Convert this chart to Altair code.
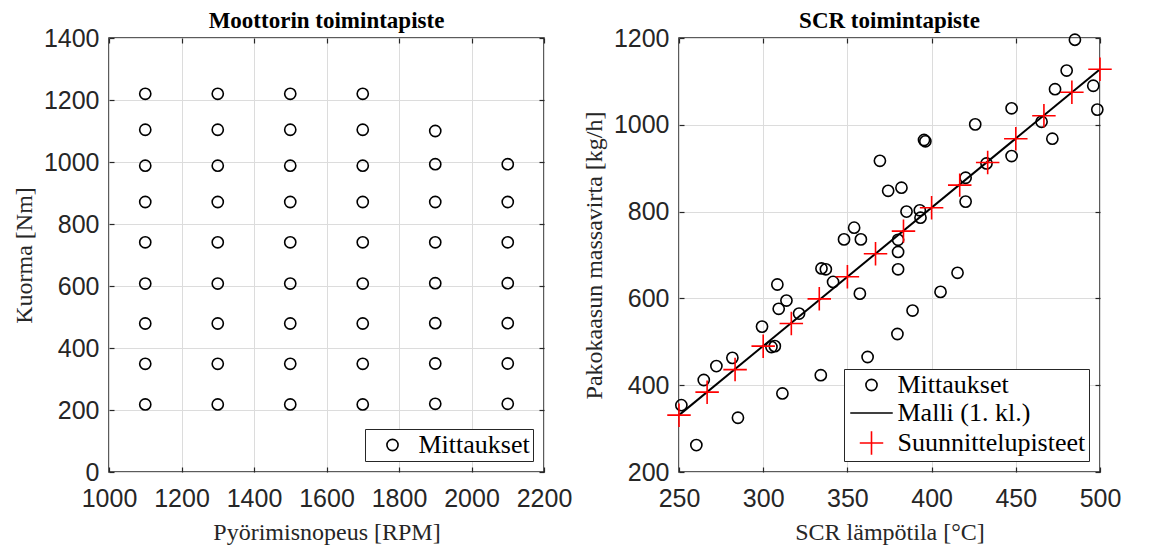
import altair as alt
import pandas as pd

SANS = "Liberation Sans"
SERIF = "Liberation Serif"
AX = "#262626"
GRID = "#dcdcdc"

# ---------------- Left panel data ----------------
speed_1100 = [1100] * 9
load_1100 = [1220, 1104, 988, 871, 741, 608, 479, 349, 218]
speed_1300 = [1300] * 9
load_1300 = [1220, 1104, 988, 871, 741, 608, 479, 349, 218]
speed_1500 = [1500] * 9
load_1500 = [1220, 1104, 988, 871, 741, 608, 479, 349, 218]
speed_1700 = [1700] * 9
load_1700 = [1220, 1104, 988, 871, 741, 608, 479, 349, 218]
speed_1900 = [1900] * 8
load_1900 = [1100, 993, 871, 741, 609, 480, 350, 220]
speed_2100 = [2100] * 7
load_2100 = [993, 871, 741, 609, 480, 350, 220]

left_x_ticks = [1000, 1200, 1400, 1600, 1800, 2000, 2200]
left_y_ticks = [0, 200, 400, 600, 800, 1000, 1200, 1400]

# ---------------- Right panel data ----------------
meas_temp = [485.1, 480.2, 473.3, 496.0, 498.4, 447.5, 465.3, 471.7, 447.5, 425.9,
             395.5, 396.3, 369.3, 420.2, 420.2, 432.6, 374.2, 382.1, 385.1, 393.0,
             393.4, 380.1, 348.0, 354.0, 358.0, 380.1, 380.1, 415.4, 334.6, 337.2,
             405.3, 388.7, 379.7, 362.0, 334.2, 341.5, 357.4, 308.4, 313.8, 309.2,
             321.3, 299.3, 304.9, 306.9, 311.4, 281.7, 272.2, 264.7, 251.4, 285.0,
             260.3]
meas_flow = [1196, 1125, 1082, 1090, 1035, 1038, 1007, 968, 928, 1001,
             965, 962, 917, 878, 823, 911, 848, 855, 800, 803,
             786, 735, 736, 763, 736, 707, 667, 659, 669, 667,
             615, 572, 518, 465, 423, 638, 611, 632, 595, 576,
             565, 535, 488, 490, 381, 463, 444, 412, 354, 325,
             262]

design_temp = [250.0, 266.7, 283.3, 300.0, 316.7, 333.3, 350.0, 366.7,
               383.3, 400.0, 416.7, 433.3, 450.0, 466.7, 483.3, 500.0]
design_flow = [331, 384, 436, 490, 542, 599, 650, 703,
               755, 809, 861, 913, 968, 1021, 1075, 1128]

model_temp = [250, 500]
model_flow = [331, 1128]

right_x_ticks = [250, 300, 350, 400, 450, 500]
right_y_ticks = [200, 400, 600, 800, 1000, 1200]

# ---------------- Legend series ----------------
series_names = ["Mittaukset", "Malli (1. kl.)", "Suunnittelupisteet"]
series_shapes = ["circle", "M-3.8,0L3.8,0", "M-2.1,0L2.1,0M0,-2.1L0,2.1"]
series_colors = ["black", "black", "#ff0000"]

left_df = pd.DataFrame({
    "speed": speed_1100 + speed_1300 + speed_1500 + speed_1700 + speed_1900 + speed_2100,
    "load": load_1100 + load_1300 + load_1500 + load_1700 + load_1900 + load_2100,
})
left_df["series"] = "Mittaukset"

meas_df = pd.DataFrame({"temp": meas_temp, "flow": meas_flow, "series": "Mittaukset"})
design_df = pd.DataFrame({"temp": design_temp, "flow": design_flow, "series": "Suunnittelupisteet"})
model_df = pd.DataFrame({"temp": model_temp, "flow": model_flow})

PW = 1.6
PSIZE = 125


def make_legend():
    return alt.Legend(
        title=None, orient="bottom-right", offset=11,
        strokeColor=AX, fillColor="white", padding=3,
        labelFont=SERIF, labelFontSize=26, labelColor="black", labelLimit=400,
        symbolSize=PSIZE, symbolStrokeWidth=PW, symbolOffset=11.5,
        labelOffset=13, rowPadding=2,
    )


def enc_series(domain, shapes, colors):
    return dict(
        shape=alt.Shape("series:N", scale=alt.Scale(domain=domain, range=shapes), legend=make_legend()),
        stroke=alt.Stroke("series:N", scale=alt.Scale(domain=domain, range=colors), legend=make_legend()),
    )


def main_x(field, dom, ticks, title):
    return alt.X(field, type="quantitative",
                 scale=alt.Scale(domain=dom, nice=False, zero=False),
                 axis=alt.Axis(values=ticks, title=title, format="d", grid=True, gridColor=GRID,
                               ticks=False, domain=False, labelFlush=False, labelOverlap=False,
                               labelPadding=14, labelFont=SANS, labelFontSize=25, labelColor=AX,
                               titleFont=SERIF, titleFontSize=24, titleFontWeight="normal",
                               titleColor=AX, titleBaseline="alphabetic", titleY=67))


def main_y(field, dom, ticks, title):
    return alt.Y(field, type="quantitative",
                 scale=alt.Scale(domain=dom, nice=False, zero=False),
                 axis=alt.Axis(values=ticks, title=title, format="d", grid=True, gridColor=GRID,
                               ticks=False, domain=False, labelFlush=False, labelOverlap=False,
                               labelPadding=10, labelFont=SANS, labelFontSize=25, labelColor=AX,
                               titleFont=SERIF, titleFontSize=24, titleFontWeight="normal",
                               titleColor=AX, titleBaseline="alphabetic", titleX=-78))


def tick_x(field, dom, ticks, orient):
    return alt.X(field, type="quantitative",
                 scale=alt.Scale(domain=dom, nice=False, zero=False),
                 axis=alt.Axis(values=ticks, orient=orient, labels=False, title=None, grid=False,
                               ticks=True, tickSize=5, tickColor=AX, tickWidth=1.2,
                               domain=False, offset=-5))


def tick_y(field, dom, ticks, orient):
    return alt.Y(field, type="quantitative",
                 scale=alt.Scale(domain=dom, nice=False, zero=False),
                 axis=alt.Axis(values=ticks, orient=orient, labels=False, title=None, grid=False,
                               ticks=True, tickSize=5, tickColor=AX, tickWidth=1.2,
                               domain=False, offset=-5))


def tick_layers(df, xf, yf, xdom, ydom, xt, yt):
    a = alt.Chart(df).mark_point(opacity=0, size=1).encode(
        x=tick_x(xf, xdom, xt, "bottom"), y=tick_y(yf, ydom, yt, "left"))
    b = alt.Chart(df).mark_point(opacity=0, size=1).encode(
        x=tick_x(xf, xdom, xt, "top"), y=tick_y(yf, ydom, yt, "right"))
    return [a, b]


def title_params(text):
    return alt.TitleParams(text, font=SERIF, fontSize=23, fontWeight="bold", color="black",
                           anchor="middle", offset=-7)


# ---------------- Left chart ----------------
left_dom_x = [1000, 2200]
left_dom_y = [0, 1400]
left_pts = alt.Chart(left_df).mark_point(filled=False, size=PSIZE, strokeWidth=PW, opacity=1).encode(
    x=main_x("speed", left_dom_x, left_x_ticks, "Pyörimisnopeus [RPM]"),
    y=main_y("load", left_dom_y, left_y_ticks, "Kuorma [Nm]"),
    **enc_series(["Mittaukset"], ["circle"], ["black"]),
)
left = alt.layer(
    left_pts, *tick_layers(left_df, "speed", "load", left_dom_x, left_dom_y, left_x_ticks, left_y_ticks)
).resolve_axis(x="independent", y="independent").properties(
    width=435, height=434, title=title_params("Moottorin toimintapiste"))

# ---------------- Right chart ----------------
right_dom_x = [250, 500]
right_dom_y = [200, 1200]
meas_layer = alt.Chart(meas_df).mark_point(filled=False, size=PSIZE, strokeWidth=PW, opacity=1).encode(
    x=main_x("temp", right_dom_x, right_x_ticks, "SCR lämpötila [°C]"),
    y=main_y("flow", right_dom_y, right_y_ticks, "Pakokaasun massavirta [kg/h]"),
    **enc_series(series_names, series_shapes, series_colors),
)
model_layer = alt.Chart(model_df).mark_line(color="black", strokeWidth=2).encode(
    x=alt.X("temp:Q", axis=None), y=alt.Y("flow:Q", axis=None))
design_layer = alt.Chart(design_df).mark_point(filled=False, size=PSIZE, strokeWidth=PW, opacity=1).encode(
    x=alt.X("temp:Q", axis=None), y=alt.Y("flow:Q", axis=None),
    **enc_series(series_names, series_shapes, series_colors),
)
right = alt.layer(
    meas_layer, model_layer, design_layer,
    *tick_layers(meas_df, "temp", "flow", right_dom_x, right_dom_y, right_x_ticks, right_y_ticks)
).resolve_axis(x="independent", y="independent").properties(
    width=421, height=434, title=title_params("SCR toimintapiste"))

chart = alt.hconcat(left, right, spacing=8).resolve_scale(
    shape="independent", stroke="independent"
).resolve_legend(shape="independent", stroke="independent").configure_view(
    stroke=AX, strokeWidth=1.5
).properties(padding={"left": 11, "top": 9, "right": 5, "bottom": 5}, background="white")

chart.save("out.html", embed_options={"renderer": "svg", "actions": False})
